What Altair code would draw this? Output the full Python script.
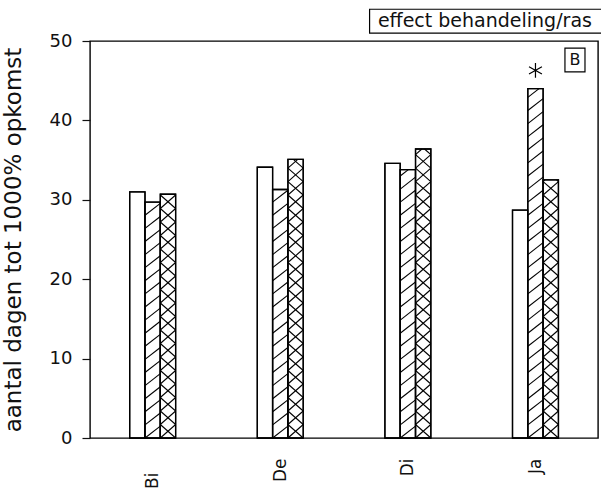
import json
import numpy as np
import pandas as pd
import altair as alt

# Days to 1000% emergence per variety, three treatments
groups = ["Bi", "De", "Di", "Ja"]
open_vals = [31.0, 34.1, 34.6, 28.7]     # open bars
diag_vals = [29.7, 31.3, 33.8, 44.0]     # single-hatched bars
cross_vals = [30.7, 35.1, 36.4, 32.5]    # cross-hatched bars

star_group = "Ja"          # significant difference marker
star_value = 46.3

legend_text = "effect behandeling/ras"
panel_text = "B"

FONT = "DejaVu Sans"
BAR_W = 0.12               # bar width in group units
OFFSETS = [-BAR_W, 0.0, BAR_W]
X_DOMAIN = [-0.491, 3.490]
Y_DOMAIN = [0, 50]

# bar rectangles
rows = []
for series, vals, off in zip(["open", "diag", "cross"],
                             [open_vals, diag_vals, cross_vals], OFFSETS):
    for i, (g, v) in enumerate(zip(groups, vals)):
        c = i + off
        rows.append({"group": g, "series": series, "x": c - BAR_W / 2,
                     "x2": c + BAR_W / 2, "y": 0.0, "y2": v})
bars = pd.DataFrame(rows)


def hatch(x0, x1, top, spacing, rise, flip=False):
    """Parallel line segments across a bar, clipped to [0, top]."""
    segs = []
    k_start = int(np.floor(-rise / spacing)) - 1
    k_end = int(np.ceil(top / spacing)) + 1
    for k in range(k_start, k_end + 1):
        ya = k * spacing
        # y(t) = ya + rise*t for t in [0, 1] across the bar width
        t0 = (0 - ya) / rise
        t1 = (top - ya) / rise
        t_lo = max(0.0, min(t0, t1))
        t_hi = min(1.0, max(t0, t1))
        if t_hi - t_lo <= 1e-6:
            continue
        xa = x0 + (x1 - x0) * t_lo
        xb = x0 + (x1 - x0) * t_hi
        if flip:
            xa, xb = x1 - (xa - x0), x1 - (xb - x0)
        segs.append({"x": xa, "x2": xb, "y": ya + rise * t_lo,
                     "y2": ya + rise * t_hi})
    return segs


hatch_rows = []
for _, r in bars.iterrows():
    if r["series"] == "diag":
        hatch_rows += hatch(r["x"], r["x2"], r["y2"], 1.65, 1.5)
    elif r["series"] == "cross":
        hatch_rows += hatch(r["x"], r["x2"], r["y2"], 1.7, 1.7)
        hatch_rows += hatch(r["x"], r["x2"], r["y2"], 1.7, 1.7, flip=True)
hatches = pd.DataFrame(hatch_rows)

xs = alt.Scale(domain=X_DOMAIN, nice=False, zero=False)
ys = alt.Scale(domain=Y_DOMAIN, nice=False)

label_expr = "%s[datum.value]" % json.dumps(groups)

x_axis = alt.Axis(values=list(range(len(groups))), labelExpr=label_expr,
                  labelAngle=-90, labelAlign="right", labelBaseline="middle",
                  labelPadding={"condition": {"test": "datum.value == 0", "value": 34},
                                "value": 20},
                  ticks=False, domain=False, grid=False, title=None,
                  labelFont=FONT, labelFontSize=17, labelColor="#111")
y_axis = alt.Axis(values=[v * 2.5 for v in range(21)],
                  labelExpr="datum.value % 10 == 0 ? datum.label : ''",
                  tickSize=8, tickColor="#111", tickWidth=1.2,
                  domain=False, grid=False,
                  title="aantal dagen tot 1000% opkomst",
                  titleFont=FONT, titleFontSize=23, titleFontWeight="normal",
                  titleColor="#111", titlePadding=24,
                  labelFont=FONT, labelFontSize=18, labelColor="#111",
                  labelPadding=10)

base = alt.Chart(bars)

bar_layer = base.mark_rect(fill="white", stroke="black", strokeWidth=1.3).encode(
    x=alt.X("x:Q", scale=xs, axis=x_axis),
    x2="x2",
    y=alt.Y("y:Q", scale=ys, axis=y_axis),
    y2="y2",
)

hatch_layer = alt.Chart(hatches).mark_rule(color="black", strokeWidth=1.1).encode(
    x=alt.X("x:Q", scale=xs), x2="x2",
    y=alt.Y("y:Q", scale=ys), y2="y2",
)

# outlines redrawn on top of the hatching
outline_layer = base.mark_rect(fill=None, stroke="black", strokeWidth=1.3).encode(
    x=alt.X("x:Q", scale=xs), x2="x2",
    y=alt.Y("y:Q", scale=ys), y2="y2",
)

star_df = pd.DataFrame({"x": [groups.index(star_group)], "y": [star_value]})
star_layer = alt.Chart(star_df).mark_point(
    shape="M0,-1L0,1M-0.87,-0.5L0.87,0.5M-0.87,0.5L0.87,-0.5",
    size=220, stroke="black", strokeWidth=1.2, filled=False, opacity=1,
).encode(x=alt.X("x:Q", scale=xs), y=alt.Y("y:Q", scale=ys))

# boxed labels: the legend heading above the plot and the panel letter
box_df = pd.DataFrame({
    "x": [1.70, 3.231], "x2": [3.70, 3.388],
    "y": [51.0, 46.1], "y2": [54.0, 49.1],
})
box_layer = alt.Chart(box_df).mark_rect(
    fill="white", stroke="black", strokeWidth=1.2
).encode(x=alt.X("x:Q", scale=xs), x2="x2", y=alt.Y("y:Q", scale=ys), y2="y2")

text_df = pd.DataFrame({"x": [1.765], "y": [52.5], "t": [legend_text]})
legend_layer = alt.Chart(text_df).mark_text(
    align="left", baseline="middle", font=FONT, fontSize=19, color="#111"
).encode(x=alt.X("x:Q", scale=xs), y=alt.Y("y:Q", scale=ys), text="t:N")

panel_df = pd.DataFrame({"x": [3.31], "y": [47.6], "t": [panel_text]})
panel_layer = alt.Chart(panel_df).mark_text(
    align="center", baseline="middle", font=FONT, fontSize=16, color="#111"
).encode(x=alt.X("x:Q", scale=xs), y=alt.Y("y:Q", scale=ys), text="t:N")

chart = alt.layer(
    bar_layer, hatch_layer, outline_layer, star_layer,
    box_layer, legend_layer, panel_layer,
).properties(
    width=508, height=397,
    padding={"left": 90, "top": 41, "right": 3, "bottom": 52},
    autosize=alt.AutoSizeParams(type="none"),
    background="white",
).configure_view(stroke="black", strokeWidth=1.4)

chart.save("out.html", embed_options={"renderer": "svg", "actions": False})
